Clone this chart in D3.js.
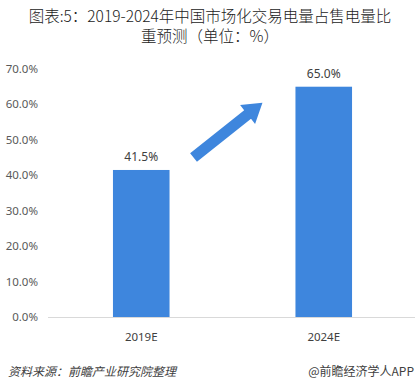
<!DOCTYPE html>
<html>
<head>
<meta charset="utf-8">
<script src="https://cdn.jsdelivr.net/npm/d3@7"></script>
<style>
  body { margin: 0; background: #fff; }
  svg { display: block; font-family: "Noto Sans", "Noto Sans CJK SC", sans-serif; }
</style>
</head>
<body>
<div class="chart"></div>
<script>
// data
const categories = ['2019E', '2024E']
const values = [41.5, 65.0]
const yTicks = [0, 10, 20, 30, 40, 50, 60, 70]
const titleLines = ['图表:5：2019-2024年中国市场化交易电量占售电量比', '重预测（单位：%）']

const W = 420, H = 384
const barColor = '#3e86dd'

const svg = d3.select('.chart').append('svg')
  .attr('width', W)
  .attr('height', H)

let xScale = d3.scaleBand()
  .domain(categories)
  .range([50, 415])
  .paddingInner(0.69)
  .paddingOuter(0.345)

let yScale = d3.scaleLinear()
  .domain([0, 70])
  .range([317, 69])

// title
svg.append('g').selectAll('text')
  .data(titleLines)
  .enter()
  .append('text')
  .attr('x', W / 2)
  .attr('y', (d, i) => 22 + i * 20)
  .attr('text-anchor', 'middle')
  .attr('font-family', '"Noto Sans CJK SC", sans-serif')
  .attr('font-size', 15.5)
  .attr('font-weight', 300)
  .attr('fill', '#222')
  .text(d => d)

// y labels
const yAxis = svg.append('g')
yAxis.selectAll('text')
  .data(yTicks)
  .enter()
  .append('text')
  .attr('x', 38)
  .attr('y', d => yScale(d) + 4)
  .attr('text-anchor', 'end')
  .attr('font-size', 11.5)
  .attr('fill', '#595959')
  .text(d => d.toFixed(1) + '%')

// bars
svg.selectAll('rect.bar')
  .data(values)
  .enter()
  .append('rect')
  .attr('class', 'bar')
  .attr('x', (d, i) => xScale(categories[i]))
  .attr('y', d => yScale(d))
  .attr('width', xScale.bandwidth())
  .attr('height', d => yScale(0) - yScale(d))
  .attr('fill', barColor)

// baseline
svg.append('line')
  .attr('x1', 48).attr('x2', 415)
  .attr('y1', yScale(0) + 0.5).attr('y2', yScale(0) + 0.5)
  .attr('stroke', '#d9d9d9')
  .attr('stroke-width', 1)

// value labels
svg.selectAll('text.val')
  .data(values)
  .enter()
  .append('text')
  .attr('class', 'val')
  .attr('x', (d, i) => xScale(categories[i]) + xScale.bandwidth() / 2)
  .attr('y', d => yScale(d) - 9)
  .attr('text-anchor', 'middle')
  .attr('font-size', 12)
  .attr('fill', '#404040')
  .text(d => d.toFixed(1) + '%')

// category labels
svg.selectAll('text.cat')
  .data(categories)
  .enter()
  .append('text')
  .attr('class', 'cat')
  .attr('x', d => xScale(d) + xScale.bandwidth() / 2)
  .attr('y', yScale(0) + 24)
  .attr('text-anchor', 'middle')
  .attr('font-size', 11.5)
  .attr('fill', '#404040')
  .text(d => d)

// rising arrow between the bars
const ax0 = xScale(categories[0]) + xScale.bandwidth() + 24
const ay0 = yScale(45)
const ax1 = xScale(categories[1]) - 33
const ay1 = yScale(60.5)
const ang = Math.atan2(ay1 - ay0, ax1 - ax0)
const len = Math.hypot(ax1 - ax0, ay1 - ay0)
const sw = 5.5, hw = 12, hl = 19
const arrowPts = [[0, -sw], [len - hl, -sw], [len - hl, -hw], [len, 0], [len - hl, hw], [len - hl, sw], [0, sw]]
svg.append('path')
  .attr('d', d3.line()(arrowPts) + 'Z')
  .attr('fill', barColor)
  .attr('transform', 'translate(' + ax0 + ',' + ay0 + ') rotate(' + (ang * 180 / Math.PI) + ')')

// footer
svg.append('text')
  .attr('x', 8)
  .attr('y', 376)
  .attr('font-family', '"Noto Sans CJK SC", sans-serif')
  .attr('font-size', 12)
  .attr('font-style', 'italic')
  .attr('fill', '#404040')
  .text('资料来源：前瞻产业研究院整理')

svg.append('text')
  .attr('x', 414)
  .attr('y', 376)
  .attr('text-anchor', 'end')
  .attr('font-family', '"Noto Sans CJK SC", sans-serif')
  .attr('font-size', 12)
  .attr('fill', '#404040')
  .text('@前瞻经济学人APP')
</script>
</body>
</html>
